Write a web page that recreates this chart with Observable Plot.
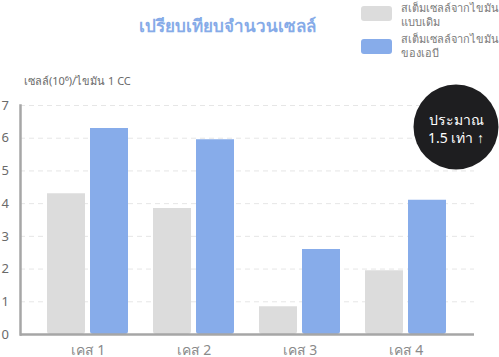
<!DOCTYPE html>
<html>
<head>
<meta charset="utf-8">
<script src="https://cdn.jsdelivr.net/npm/d3@7"></script>
<script src="https://cdn.jsdelivr.net/npm/@observablehq/plot@0.6"></script>
<style>
  html, body { margin: 0; padding: 0; background: #fff; }
  body { width: 499px; height: 357px; overflow: hidden; font-family: "Noto Sans", "Open Sans", sans-serif; }
  #wrap { position: relative; width: 499px; height: 357px; }
  #chart { position: absolute; left: 0; top: 0; }
  .title { position: absolute; left: 0; width: 454px; top: 12px; text-align: center; font-size: 17px; font-weight: bold; color: #86abe8; }
  .legend { position: absolute; left: 361px; font-size: 11px; line-height: 13.5px; color: #7a7a7a; }
  .legend .sw { position: absolute; left: 0; width: 31px; height: 15px; border-radius: 3px; }
  .legend .tx { position: absolute; left: 40px; white-space: nowrap; }
  .ylabel { position: absolute; left: 24px; top: 72px; font-size: 11px; color: #6a6a6a; white-space: nowrap; }
</style>
</head>
<body>
<div id="wrap">
  <div id="chart"></div>
  <div class="title">เปรียบเทียบจำนวนเซลล์</div>
  <div class="legend" style="top:6px"><div class="sw" style="background:#dcdcdc"></div><div class="tx" style="top:-5px">สเต็มเซลล์จากไขมัน<br>แบบเดิม</div></div>
  <div class="legend" style="top:39px"><div class="sw" style="background:#87acea"></div><div class="tx" style="top:-7px">สเต็มเซลล์จากไขมัน<br>ของเอบี</div></div>
  <div class="ylabel">เซลล์(10⁶)/ไขมัน 1 CC</div>
</div>
<script>
const cases = ["เคส 1", "เคส 2", "เคส 3", "เคส 4"];
const standardValues = [4.3, 3.85, 0.85, 1.95];
const amyValues = [6.3, 5.95, 2.6, 4.1];
const yTicks = [0, 1, 2, 3, 4, 5, 6, 7];
const badgeText = ["ประมาณ\n1.5 เท่า ↑"];

const standard = cases.map((c, i) => ({case: c, value: standardValues[i]}));
const amy = cases.map((c, i) => ({case: c, value: amyValues[i]}));

const chart = Plot.plot({
  width: 499,
  height: 357,
  marginTop: 105,
  marginBottom: 23,
  marginLeft: 20,
  marginRight: 25,
  style: {fontFamily: "'Noto Sans', 'Open Sans', sans-serif", background: "transparent", overflow: "visible"},
  x: {domain: cases, paddingInner: 0.2358, paddingOuter: 0.2594, label: null},
  y: {domain: [0, 7], ticks: yTicks, label: null},
  marks: [
    Plot.gridY(yTicks.filter(d => d > 0), {stroke: "#e6e6e6", strokeOpacity: 1, strokeDasharray: "5,4", strokeWidth: 1}),
    Plot.barY(standard, {x: "case", y: "value", fill: "#dcdcdc", insetRight: 43, ry2: 3, rx: 3}),
    Plot.barY(amy, {x: "case", y: "value", fill: "#87acea", insetLeft: 43, ry2: 3, rx: 3}),
    Plot.ruleY([0], {stroke: "#a6a6a6", strokeWidth: 2.5}),
    Plot.frame({anchor: "left", stroke: "#a6a6a6", strokeWidth: 2.5}),
    Plot.axisY({ticks: yTicks, tickFormat: d => String(d), tickSize: 0, tickPadding: 19, textAnchor: "start", fontSize: 13, fill: "#6a6a6a", label: null}),
    Plot.axisX({tickSize: 0, tickPadding: 11, fontSize: 14, fill: "#8a8a8a", label: null}),
    Plot.dot([0], {frameAnchor: "top-right", dx: -18.5, dy: 21.5, r: 42.5, fill: "#1e1e20", stroke: null}),
    Plot.text(badgeText, {frameAnchor: "top-right", dx: -18.5, dy: 23, textAnchor: "middle", lineAnchor: "middle", fill: "#ffffff", fontSize: 14, lineHeight: 1.25})
  ]
});
document.getElementById("chart").appendChild(chart);
</script>
</body>
</html>
